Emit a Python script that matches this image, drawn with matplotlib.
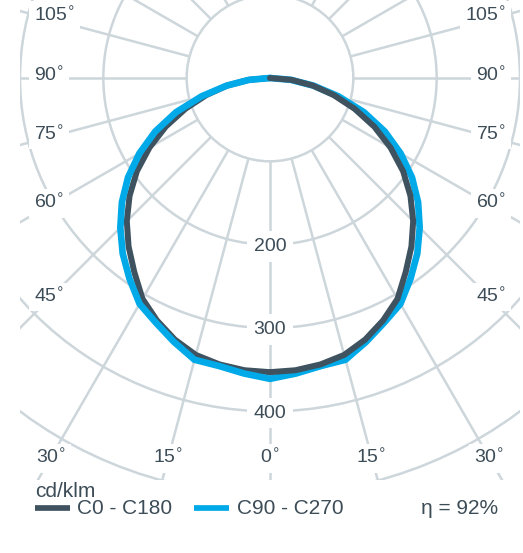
import numpy as np
import matplotlib.pyplot as plt
from matplotlib.lines import Line2D
from matplotlib.patches import Circle

plt.rcParams['font.family'] = ['Liberation Sans', 'DejaVu Sans']

# half profiles, gamma = 0 straight down, values in cd/klm
gamma = np.arange(0, 95, 5)
c0_c180 = [353, 352, 349, 344, 334, 321, 306, 284, 264, 243, 220, 195, 167, 138, 108, 79, 52, 26, 0]
c90_c270 = [361, 356, 351, 350, 337, 324, 313, 294, 275, 254, 232, 208, 181, 152, 120, 85, 53, 25, 0]

ring_values = [100, 200, 300, 400, 500]
ring_labels = [200, 300, 400]
angle_ticks = [0, 15, 30, 45, 60, 75, 90, 105]
efficiency = 92

W, H = 523, 553
dark = '#3e5260'
blue = '#00aae8'
grid_col = '#cdd6db'
txt_col = '#3d4d58'

fig = plt.figure(figsize=(W / 100, H / 100), dpi=100)
# plot area: x 20..520 px, y 0..480 px, centre at (270, 78), 0.8333 px per cd/klm
ax = fig.add_axes([20 / W, (H - 480) / H, 500 / W, 480 / H])
ax.set_xlim(-300, 300)
ax.set_ylim(-482.4, 93.6)
ax.axis('off')

# grid: rings and radial lines (radials start at the inner ring)
for r in ring_values:
    ax.add_patch(Circle((0, 0), r, fill=False, ec=grid_col, lw=1.8, zorder=1))
for a in np.radians(np.arange(0, 360, 15)):
    ax.plot([100 * np.sin(a), 1000 * np.sin(a)], [-100 * np.cos(a), -1000 * np.cos(a)],
            color=grid_col, lw=1.8, zorder=1, solid_capstyle='butt')

box = dict(boxstyle='square,pad=0.25', fc='white', ec='none')
for r in ring_labels:
    ax.text(0, -r - 2, str(r), ha='center', va='center', fontsize=14, color=txt_col,
            bbox=dict(boxstyle='square,pad=0.35', fc='white', ec='none'), zorder=2)

# angle labels along the frame
for a in angle_ticks:
    for side in ([1] if a == 0 else [-1, 1]):
        s, c = np.sin(np.radians(a)), np.cos(np.radians(a))
        t_side = 266 / s if s > 1e-9 else np.inf
        t_bot = 455 / c if c > 1e-9 else np.inf
        label = f'{a}$^{{\\circ}}$'
        if t_bot <= t_side:
            ax.text(side * t_bot * s, -463, label, ha='center', va='baseline',
                    fontsize=14, color=txt_col, bbox=box, zorder=2)
        else:
            y = -t_side * c - 3.5
            ax.text(side * 283.5, y, label, ha='left' if side < 0 else 'right',
                    va='baseline', fontsize=14, color=txt_col, bbox=box, zorder=2)

th = np.radians(gamma)
dk = np.array(c0_c180)
bl = np.array(c90_c270)
kw = dict(solid_capstyle='round', solid_joinstyle='miter')
ax.plot(-dk * np.sin(th), -dk * np.cos(th), color=dark, lw=4.3, zorder=3, **kw)
ax.plot(-bl * np.sin(th), -bl * np.cos(th), color=blue, lw=4.8, zorder=4, **kw)
ax.plot(bl * np.sin(th), -bl * np.cos(th), color=blue, lw=4.8, zorder=5, **kw)
ax.plot(dk * np.sin(th), -dk * np.cos(th), color=dark, lw=4.3, zorder=6, **kw)


def fy(y):
    return 1 - y / H


fig.text(35 / W, fy(497), 'cd/klm', fontsize=15, color=txt_col, va='baseline')
fig.add_artist(Line2D([35 / W, 70 / W], [fy(507.5)] * 2, transform=fig.transFigure,
                      color=dark, lw=4.1, solid_capstyle='butt'))
fig.text(77 / W, fy(514), 'C0 - C180', fontsize=15, color=txt_col, va='baseline')
fig.add_artist(Line2D([194 / W, 229 / W], [fy(507.5)] * 2, transform=fig.transFigure,
                      color=blue, lw=4.1, solid_capstyle='butt'))
fig.text(237 / W, fy(514), 'C90 - C270', fontsize=15, color=txt_col, va='baseline')
fig.text(498 / W, fy(514), f'η = {efficiency}%', fontsize=15, color=txt_col,
         va='baseline', ha='right')

fig.savefig('out.png', dpi=100, facecolor='white')
